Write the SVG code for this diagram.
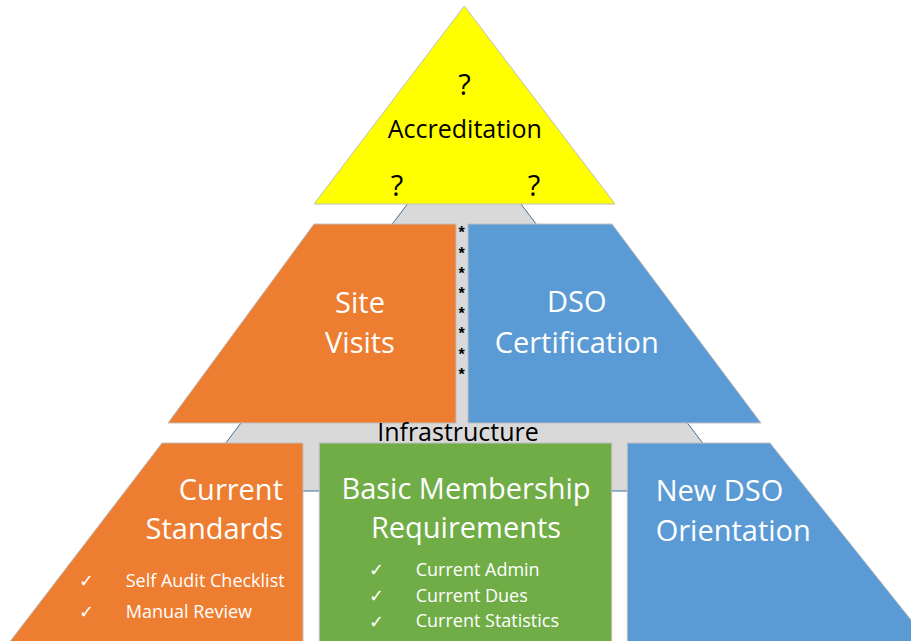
<svg xmlns="http://www.w3.org/2000/svg" width="911" height="641" viewBox="0 0 911 641">
  <style>
    .shape { stroke: #BFBFBF; stroke-width: 1; }
    .t { font-family: "Open Sans", "Noto Sans", sans-serif; fill: #FFFFFF; }
    .dark { fill: #000000; }
    .title { font-size: 29px; }
    .item { font-size: 18px; }
    .chk { font-family: "DejaVu Sans", sans-serif; font-size: 18px; fill: #FFFFFF; }
    .ast { font-family: "Liberation Sans", sans-serif; font-size: 16px; font-weight: bold; fill: #000000; text-anchor: middle; }
  </style>
  <rect width="911" height="641" fill="#FFFFFF"/>

  <g id="infrastructure">
    <polygon points="412,198 516.4,198 739.1,491 189.3,491" fill="#D9D9D9" stroke="#41719C" stroke-width="1"/>
  </g>

  <g id="accreditation">
    <polygon class="shape" points="464.3,6 615,204 314,204" fill="#FFFF00" stroke="#A5B4C8"/>
    <text class="t dark" x="464.5" y="95" font-size="29" text-anchor="middle">?</text>
    <text class="t dark" x="464.8" y="137.5" font-size="25" text-anchor="middle">Accreditation</text>
    <text class="t dark" x="397" y="196" font-size="29" text-anchor="middle">?</text>
    <text class="t dark" x="534" y="196" font-size="29" text-anchor="middle">?</text>
  </g>

  <g id="site-visits">
    <polygon class="shape" points="314,224 456,224 456,423 168,423" fill="#ED7D31"/>
    <text class="t title" x="360" y="313" text-anchor="middle">Site</text>
    <text class="t title" x="360" y="353" text-anchor="middle">Visits</text>
  </g>

  <g id="separator">
    <text class="ast" x="461.7" y="238">*</text>
    <text class="ast" x="461.7" y="259">*</text>
    <text class="ast" x="461.7" y="279">*</text>
    <text class="ast" x="461.7" y="299">*</text>
    <text class="ast" x="461.7" y="319">*</text>
    <text class="ast" x="461.7" y="339">*</text>
    <text class="ast" x="461.7" y="360">*</text>
    <text class="ast" x="461.7" y="380">*</text>
  </g>

  <g id="dso-certification">
    <polygon class="shape" points="468,224 612,224 761,423 468,423" fill="#5B9BD5"/>
    <text class="t title" x="576.7" y="312" text-anchor="middle">DSO</text>
    <text class="t title" x="576.7" y="353" text-anchor="middle">Certification</text>
  </g>

  <g id="infrastructure-label">
    <text class="t dark" x="458" y="441" font-size="25" text-anchor="middle">Infrastructure</text>
  </g>

  <g id="current-standards">
    <polygon class="shape" points="162,443 303,443 303,650 3.5,650" fill="#ED7D31"/>
    <text class="t title" x="283" y="500" text-anchor="end">Current</text>
    <text class="t title" x="283" y="538.5" text-anchor="end">Standards</text>
    <text class="chk" x="79" y="587">✓</text>
    <text class="t item" x="125.7" y="587.3">Self Audit Checklist</text>
    <text class="chk" x="79" y="618">✓</text>
    <text class="t item" x="125.7" y="618.3">Manual Review</text>
  </g>

  <g id="basic-membership">
    <rect class="shape" x="319.3" y="443" width="292.4" height="207" fill="#70AD47"/>
    <text class="t title" x="466" y="499.3" text-anchor="middle">Basic Membership</text>
    <text class="t title" x="466" y="538.3" text-anchor="middle">Requirements</text>
    <text class="chk" x="369" y="576">✓</text>
    <text class="t item" x="415.7" y="575.7">Current Admin</text>
    <text class="chk" x="369" y="602">✓</text>
    <text class="t item" x="415.7" y="601.7">Current Dues</text>
    <text class="chk" x="369" y="627.5">✓</text>
    <text class="t item" x="415.7" y="627.3">Current Statistics</text>
  </g>

  <g id="new-dso-orientation">
    <polygon class="shape" points="627.3,443 770,443 935,650 627.3,650" fill="#5B9BD5"/>
    <text class="t title" x="655.7" y="501" text-anchor="start">New DSO</text>
    <text class="t title" x="655.7" y="540.7" text-anchor="start">Orientation</text>
  </g>

  <g id="connectors"></g>
</svg>
